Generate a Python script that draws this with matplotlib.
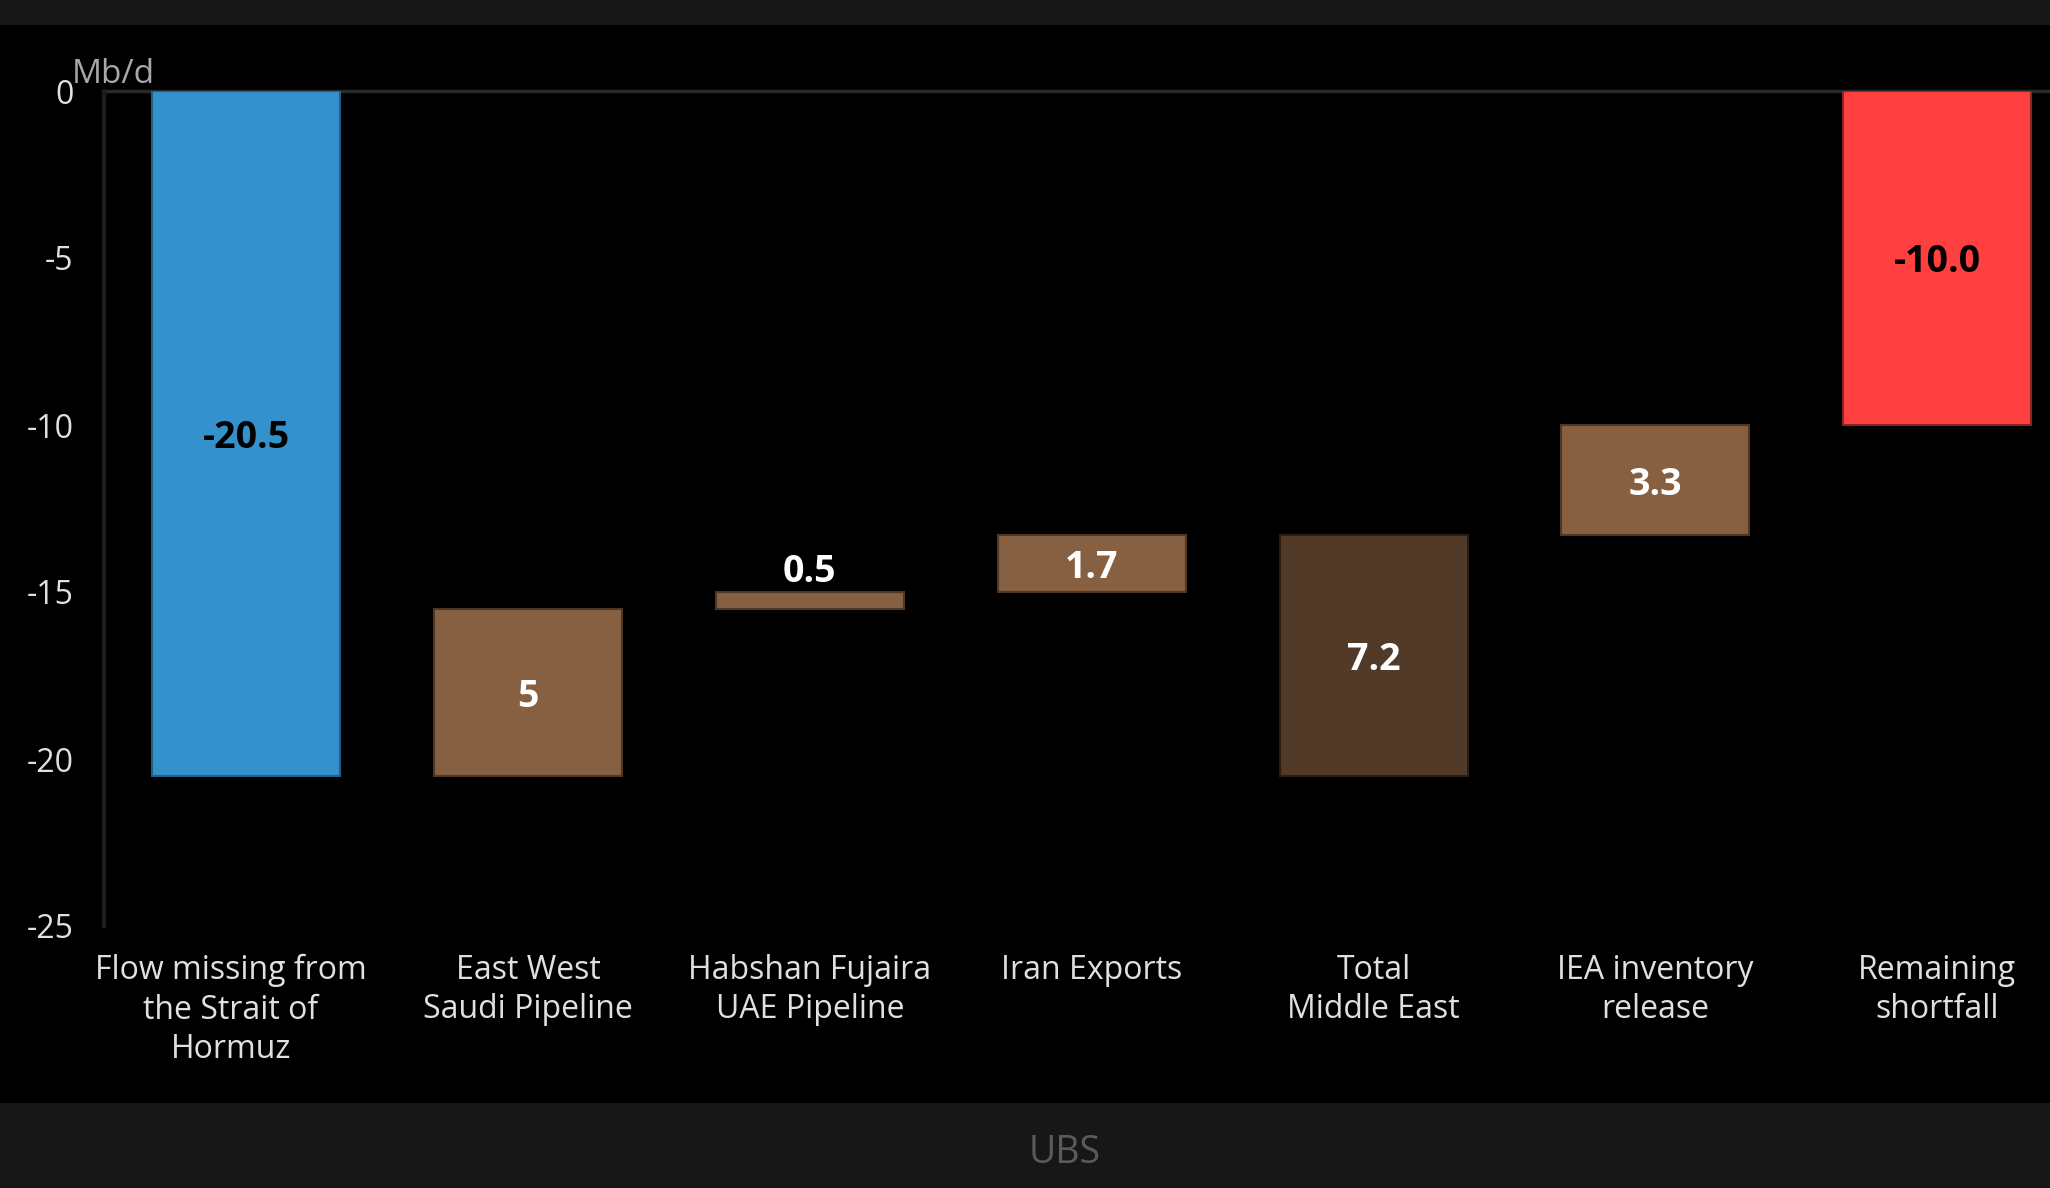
import matplotlib.pyplot as plt
from matplotlib.patches import Rectangle
from matplotlib.transforms import ScaledTranslation

plt.rcParams['font.family'] = ['Open Sans', 'DejaVu Sans']

# waterfall data (Mb/d)
categories = ['Flow missing from\nthe Strait of\nHormuz', 'East West\nSaudi Pipeline',
              'Habshan Fujaira\nUAE Pipeline', 'Iran Exports', 'Total\nMiddle East',
              'IEA inventory\nrelease', 'Remaining\nshortfall']
values = [-20.5, 5, 0.5, 1.7, 7.2, 3.3, -10.0]
kinds = ['start', 'step', 'step', 'step', 'total', 'step', 'end']
value_labels = ['-20.5', '5', '0.5', '1.7', '7.2', '3.3', '-10.0']
y_ticks = [0, -5, -10, -15, -20, -25]

colors = ['#3591cb', '#875f41', '#875f41', '#875f41', '#523a28', '#875f41', '#ff4040']
edges = ['#215f88', '#4f3726', '#4f3726', '#4f3726', '#2a1d13', '#4f3726', '#8a2323']
label_colors = ['black', 'white', 'white', 'white', 'white', 'white', 'black']

# work out where each bar starts
bottoms = []
running = 0
base = 0
for v, k in zip(values, kinds):
    if k == 'start':
        bottoms.append(0)
        running = v
        base = v
    elif k == 'step':
        bottoms.append(running)
        running += v
    elif k == 'total':
        bottoms.append(base)
    else:
        bottoms.append(0)

fig = plt.figure(figsize=(20.5, 11.88), dpi=100, facecolor='black')
fig.add_artist(Rectangle((0, 1 - 25 / 1188), 1, 25 / 1188, transform=fig.transFigure,
                         facecolor='#171717', edgecolor='none'))
fig.add_artist(Rectangle((0, 0), 1, 85 / 1188, transform=fig.transFigure,
                         facecolor='#171717', edgecolor='none'))

ax = fig.add_axes([104 / 2050, 1 - 926 / 1188, 1 - 104 / 2050, 835 / 1188])
ax.set_facecolor('black')

x = list(range(len(categories)))
ax.bar(x, values, bottom=bottoms, width=0.667, color=colors, edgecolor=edges,
       linewidth=1.5, zorder=3)

for i in x:
    v = values[i]
    if abs(v) < 1:
        ax.text(i, bottoms[i] + v + 0.3, value_labels[i], ha='center', va='baseline',
                color='white', fontsize=27, fontweight='bold', zorder=4)
    else:
        ax.text(i, bottoms[i] + v / 2, value_labels[i], ha='center', va='center_baseline',
                color=label_colors[i], fontsize=27, fontweight='bold', zorder=4)

ax.axhline(0, color='#2a2a2a', linewidth=2.5, zorder=2, clip_on=False)

ax.set_xlim(-0.504, 6.40)
ax.set_ylim(-25, 0)
ax.set_yticks(y_ticks)
ax.set_yticklabels([str(t) for t in y_ticks])
ax.set_xticks(x)
ax.set_xticklabels(categories, linespacing=1.26)
ax.tick_params(axis='y', length=0, pad=22, labelsize=23, labelcolor='#e0e0e0')
ax.tick_params(axis='x', length=0, pad=20, labelsize=23, labelcolor='#e0e0e0')

# first label sits a little left of its bar
lab0 = ax.get_xticklabels()[0]
lab0.set_transform(lab0.get_transform() + ScaledTranslation(-0.15, 0, fig.dpi_scale_trans))

for side in ['top', 'right', 'bottom']:
    ax.spines[side].set_visible(False)
ax.spines['left'].set_color('#1c1c1c')
ax.spines['left'].set_linewidth(3)

fig.text(72 / 2050, 1 - 83 / 1188, 'Mb/d', color='#a8a8a8', fontsize=24,
         ha='left', va='baseline')
fig.text(1065 / 2050, 1 - 1153 / 1188, 'UBS', color='#5a5a5a', fontsize=27,
         ha='center', va='center')

fig.savefig('out.png', dpi=100, facecolor=fig.get_facecolor())
